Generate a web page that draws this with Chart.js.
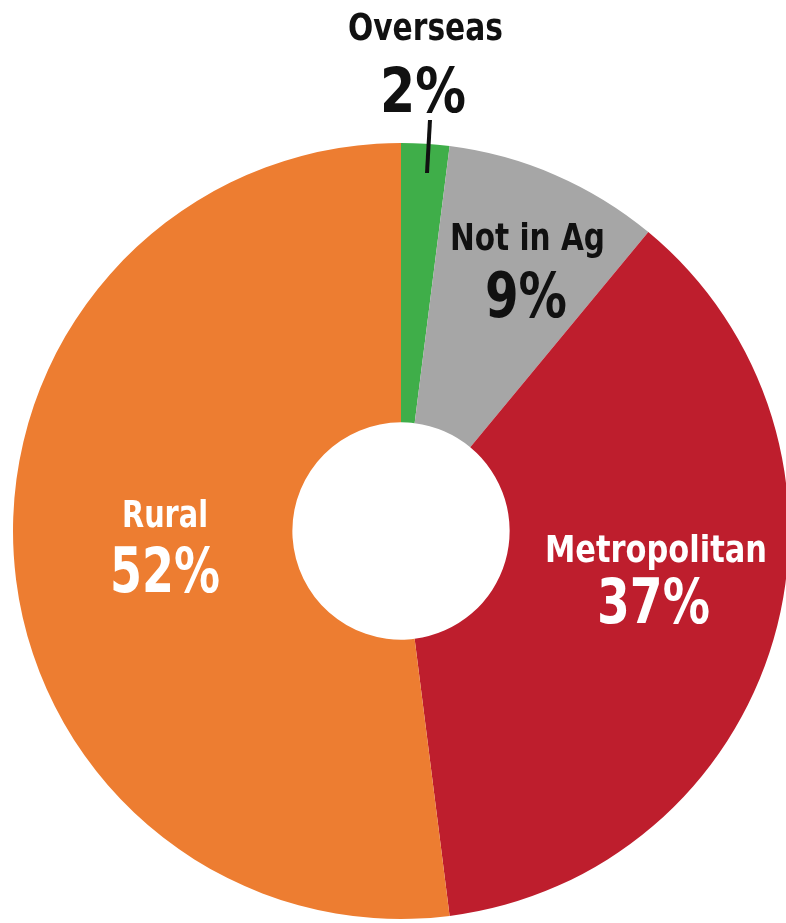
<!DOCTYPE html>
<html>
<head>
<meta charset="utf-8">
<script src="https://cdn.jsdelivr.net/npm/chart.js@4"></script>
<style>
  html, body { margin: 0; padding: 0; background: #ffffff; overflow: hidden; }
  #wrap { position: relative; width: 800px; height: 923px; }
</style>
</head>
<body>
<div id="wrap"><canvas id="destChart"></canvas></div>
<script>
// ** Data **
const categories = ["Overseas", "Not in Ag", "Metropolitan", "Rural"];
const shares = [2, 9, 37, 52];
const sliceColors = ["#3fae49", "#a6a6a6", "#be1e2d", "#ed7d31"];

// label look: colour, offsets from the chart centre (name / percent baselines), target widths
const labelStyle = [
    { color: "#111111", nx: 24.5, ny: -491, px: 22, py: -419, nameW: 155, pctW: 86 },
    { color: "#111111", nx: 126.5, ny: -281, px: 125, py: -214, nameW: 155, pctW: 82 },
    { color: "#ffffff", nx: 255, ny: 31, px: 252.5, py: 92, nameW: 222, pctW: 113 },
    { color: "#ffffff", nx: -236, ny: -4, px: -236, py: 61, nameW: 86, pctW: 110 }
];
const FONT = "'Liberation Sans Narrow', 'DejaVu Sans Condensed', 'Roboto', sans-serif";

function fitText(ctx, text, x, y, size, width) {
    ctx.font = "bold " + size + "px " + FONT;
    const w = ctx.measureText(text).width;
    ctx.save();
    ctx.translate(x, y);
    ctx.scale(width / w, 1);
    ctx.fillText(text, 0, 0);
    ctx.restore();
}

// ** Labels plugin **
const sliceLabels = {
    id: "sliceLabels",
    afterDatasetsDraw(chart) {
        const ctx = chart.ctx;
        const arc = chart.getDatasetMeta(0).data[0];
        const cx = arc.x, cy = arc.y;
        ctx.save();
        ctx.textAlign = "center";
        ctx.textBaseline = "alphabetic";
        categories.forEach((name, i) => {
            const s = labelStyle[i];
            ctx.fillStyle = s.color;
            fitText(ctx, name, cx + s.nx, cy + s.ny, 38, s.nameW);
            fitText(ctx, shares[i] + "%", cx + s.px, cy + s.py, 63, s.pctW);
        });
        // leader line for the small slice
        ctx.strokeStyle = "#111111";
        ctx.lineWidth = 4;
        ctx.beginPath();
        ctx.moveTo(cx + 29, cy - 411);
        ctx.lineTo(cx + 26, cy - 358);
        ctx.stroke();
        ctx.restore();
    }
};

new Chart(document.getElementById("destChart").getContext("2d"), {
    type: "doughnut",
    data: {
        labels: categories,
        datasets: [{ data: shares, backgroundColor: sliceColors, borderWidth: 0, hoverOffset: 0 }]
    },
    options: {
        responsive: true,
        maintainAspectRatio: false,
        animation: false,
        cutout: "28%",
        layout: { padding: { top: 143, bottom: 4, left: 13, right: 11 } },
        plugins: { legend: { display: false }, tooltip: { enabled: false } }
    },
    plugins: [sliceLabels]
});
</script>
</body>
</html>
